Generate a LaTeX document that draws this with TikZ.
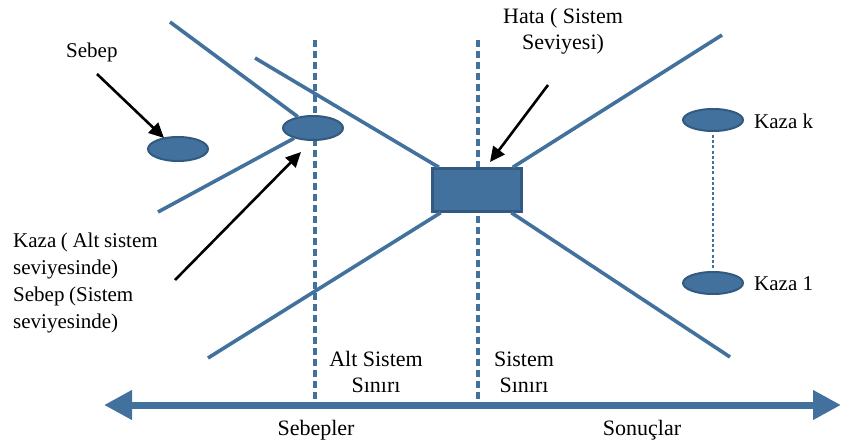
\documentclass[tikz,border=0pt]{standalone}
\usepackage{fontspec}
\setmainfont{Liberation Serif}
\usetikzlibrary{arrows.meta,shapes.geometric}
\definecolor{steel}{RGB}{65,113,156}
\definecolor{steeldark}{RGB}{50,90,128}
\newcommand{\narrowspaces}{\spaceskip=0.22em plus 0.05em\relax}
\tikzset{
  x=1pt, y=-1pt,
  bar/.style={draw=steel, line width=3.6pt},
  bound/.style={draw=steel, line width=3.4pt, dash pattern=on 7pt off 4pt},
  dotline/.style={draw=steel, line width=2.6pt, dash pattern=on 3pt off 2.2pt},
  event/.style={ellipse, fill=steel, draw=steeldark, line width=2pt, minimum width=60pt, minimum height=24pt, inner sep=0pt},
  hazard/.style={rectangle, fill=steel, draw=steeldark, line width=2.4pt, minimum width=89pt, minimum height=43pt, inner sep=0pt},
  pointer/.style={draw=black, line width=2.6pt, -{Triangle[length=15pt,width=14pt]}},
  lbl/.style={font=\fontsize{22}{26}\selectfont, inner sep=0pt},
  lblsm/.style={font=\fontsize{21}{26}\selectfont, inner sep=0pt},
  lblblock/.style={font=\fontsize{21}{27}\selectfont, inner sep=0pt},
}
\begin{document}
\begin{tikzpicture}
\useasboundingbox (0,0) rectangle (842,446);

% system boundaries (dashed verticals)
\coordinate (b1t) at (315,40);
\coordinate (b1b) at (315,404);
\coordinate (b2t) at (478,40);
\coordinate (b2b) at (478,404);
\draw[bound] (b1t) -- (b1b);
\draw[bound] (b2t) -- (b2b);

% events and hazard
\node[event] (cause) at (178,149) {};
\node[event] (sub) at (313,128) {};
\node[hazard] (haz) at (477,190) {};
\node[event, minimum height=22pt] (kk) at (713,120) {};
\node[event, minimum height=22pt] (k1) at (713,283) {};

% bow-tie branches
\coordinate (p1) at (170,22);
\coordinate (p2) at (158,212);
\coordinate (p3) at (255,58);
\coordinate (p4) at (208,358);
\coordinate (p5) at (722,35);
\coordinate (p6) at (730,357);
\draw[bar] (p1) -- (sub);
\draw[bar] (p2) -- (sub);
\draw[bar] (p3) -- (haz);
\draw[bar] (p4) -- (haz);
\draw[bar] (p5) -- (haz);
\draw[bar] (p6) -- (haz);

% dotted link between consequences
\draw[dotline, shorten <=3pt, shorten >=3pt] (kk) -- (k1);

% time axis
\coordinate (axL) at (104,405);
\coordinate (axR) at (841,405);
\draw[steel, line width=7pt, {Triangle[length=28pt,width=28pt]}-{Triangle[length=28pt,width=28pt]}] (axL) -- (axR);

% labels
\node[lblsm, anchor=west] (tSebep) at (66,52) {Sebep};
\node[lblsm, anchor=west] (tKk) at (754,121) {Kaza k};
\node[lblsm, anchor=west] (tK1) at (754,284) {Kaza 1};
\node[lbl, align=center] (tHata) at (563,31) {Hata ( Sistem\\Seviyesi)};
\node[lblblock, align=left, anchor=north west] (tKaza) at (13,233) {\narrowspaces Kaza ( Alt sistem\\\narrowspaces seviyesinde)\\\narrowspaces Sebep (Sistem\\\narrowspaces seviyesinde)};
\node[lbl, align=center] (tAlt) at (376,372) {Alt Sistem\\Sınırı};
\node[lbl, align=center] (tSis) at (524,372) {Sistem\\Sınırı};
\node[lbl] (tSebepler) at (316,430) {Sebepler};
\node[lbl] (tSonuc) at (642,430) {Sonuçlar};

% pointers
\coordinate (a1s) at (97,74);
\coordinate (a1e) at (164,138);
\coordinate (a2s) at (175,280);
\coordinate (a2e) at (301,152);
\coordinate (a3s) at (548,85);
\coordinate (a3e) at (490,162);
\draw[pointer] (a1s) -- (a1e);
\draw[pointer] (a2s) -- (a2e);
\draw[pointer] (a3s) -- (a3e);
\end{tikzpicture}
\end{document}
